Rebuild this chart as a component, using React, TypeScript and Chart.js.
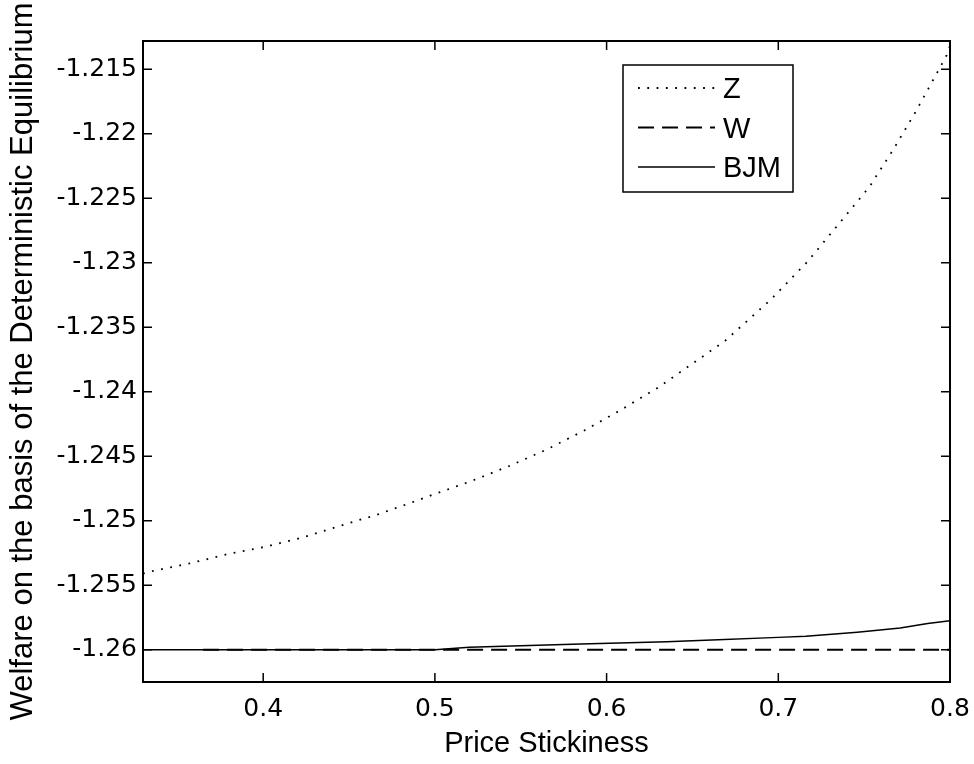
import React, { useEffect, useRef } from "react";
import { Chart, registerables } from "chart.js";

Chart.register(...registerables);

// ---- data ----
const zX = [0.33, 0.335, 0.357, 0.379, 0.401, 0.423, 0.444, 0.466, 0.488, 0.499, 0.521, 0.543, 0.565, 0.587, 0.608, 0.63, 0.652, 0.669, 0.696, 0.717, 0.735, 0.753, 0.767, 0.78, 0.789, 0.798, 0.8];
const zY = [-1.2541, -1.25391, -1.25331, -1.25259, -1.25202, -1.2513, -1.25042, -1.24954, -1.24851, -1.24797, -1.24693, -1.24577, -1.24448, -1.243, -1.24143, -1.23967, -1.23763, -1.23605, -1.2328, -1.22991, -1.22702, -1.22412, -1.22121, -1.21828, -1.21611, -1.21392, -1.21317];

const wX = [0.365, 0.8];
const wY = [-1.26, -1.26];

const bjmX = [0.33, 0.5, 0.52, 0.585, 0.635, 0.665, 0.7, 0.716, 0.746, 0.771, 0.787, 0.8];
const bjmY = [-1.26, -1.26, -1.2598, -1.25956, -1.25938, -1.25923, -1.25904, -1.25896, -1.25865, -1.25832, -1.25797, -1.25775];

const seriesLabels = ["Z", "W", "BJM"];

const xTickValues = [0.4, 0.5, 0.6, 0.7, 0.8];
const yTickValues = [-1.26, -1.255, -1.25, -1.245, -1.24, -1.235, -1.23, -1.225, -1.22, -1.215];

const xTitle = "Price Stickiness";
const yTitle = "Welfare on the basis of the Deterministic Equilibrium";

const fmt = (v: number) => String(parseFloat(Number(v).toFixed(3)));
const pts = (xs: number[], ys: number[]) => xs.map((x, i) => ({ x, y: ys[i] }));

const boxPlugin = {
  id: "matlabBox",
  afterDraw(chart: any) {
    const ctx = chart.ctx;
    const { left, top, right, bottom } = chart.chartArea;
    const xs = chart.scales.x;
    const ys = chart.scales.y;
    ctx.save();
    ctx.strokeStyle = "#000";
    ctx.lineWidth = 2;
    ctx.setLineDash([]);
    ctx.strokeRect(left, top, right - left, bottom - top);
    const tl = 9;
    ctx.lineWidth = 1.5;
    ctx.beginPath();
    xTickValues.forEach((v) => {
      const px = xs.getPixelForValue(v);
      ctx.moveTo(px, bottom);
      ctx.lineTo(px, bottom - tl);
      ctx.moveTo(px, top);
      ctx.lineTo(px, top + tl);
    });
    yTickValues.forEach((v) => {
      const py = ys.getPixelForValue(v);
      ctx.moveTo(left, py);
      ctx.lineTo(left + tl, py);
      ctx.moveTo(right, py);
      ctx.lineTo(right - tl, py);
    });
    ctx.stroke();

    // legend box (inside plot, upper right)
    const lx = right - 327;
    const ly = top + 24;
    const lw = 170;
    const lh = 127;
    ctx.fillStyle = "#fff";
    ctx.fillRect(lx, ly, lw, lh);
    ctx.lineWidth = 1.5;
    ctx.strokeStyle = "#000";
    ctx.strokeRect(lx, ly, lw, lh);
    const rows = [23, 62.5, 102];
    chart.data.datasets.forEach((ds: any, i: number) => {
      const ry = ly + rows[i];
      ctx.save();
      ctx.strokeStyle = ds.borderColor;
      ctx.lineWidth = ds.borderWidth;
      ctx.lineCap = ds.borderCapStyle || "butt";
      ctx.setLineDash(ds.borderDash || []);
      ctx.beginPath();
      ctx.moveTo(lx + 15, ry);
      ctx.lineTo(lx + 92, ry);
      ctx.stroke();
      ctx.restore();
      ctx.fillStyle = "#000";
      ctx.font = "29px 'Liberation Sans'";
      ctx.textBaseline = "middle";
      ctx.textAlign = "left";
      ctx.fillText(ds.label, lx + 100, ry + 2);
    });
    ctx.restore();
  },
};

export default function App() {
  const ref = useRef<HTMLCanvasElement | null>(null);
  useEffect(() => {
    document.body.style.margin = "0";
    const canvas = ref.current;
    if (!canvas) return;
    const chart = new Chart(canvas, {
      type: "line",
      data: {
        datasets: [
          {
            label: seriesLabels[0],
            data: pts(zX, zY),
            borderColor: "#000",
            borderWidth: 1.8,
            borderDash: [1.8, 7.5],
            pointRadius: 0,
            fill: false,
            tension: 0,
          },
          {
            label: seriesLabels[1],
            data: pts(wX, wY),
            borderColor: "#000",
            borderWidth: 1.8,
            borderDash: [16, 8],
            pointRadius: 0,
            fill: false,
            tension: 0,
          },
          {
            label: seriesLabels[2],
            data: pts(bjmX, bjmY),
            borderColor: "#000",
            borderWidth: 1.5,
            pointRadius: 0,
            fill: false,
            tension: 0,
          },
        ],
      },
      options: {
        animation: false,
        responsive: false,
        devicePixelRatio: 1,
        layout: { padding: { left: 0, top: 41, right: 24, bottom: 0 } },
        plugins: { legend: { display: false }, tooltip: { enabled: false } },
        scales: {
          x: {
            type: "linear",
            min: 0.33,
            max: 0.8,
            grid: { display: false, drawTicks: false },
            border: { display: false },
            afterBuildTicks: (s: any) => {
              s.ticks = xTickValues.map((v) => ({ value: v }));
            },
            afterFit: (s: any) => {
              s.height = 82;
              s.paddingLeft = 0;
              s.paddingRight = 0;
            },
            ticks: {
              padding: 12,
              autoSkip: false,
              maxRotation: 0,
              color: "#000",
              font: { family: "'DejaVu Sans'", size: 25 },
              callback: (v: any) => fmt(v),
            },
            title: {
              display: true,
              text: xTitle,
              color: "#000",
              font: { family: "'Liberation Sans'", size: 29 },
              padding: { top: 0, bottom: 3 },
            },
          },
          y: {
            type: "linear",
            min: -1.2625,
            max: -1.2128,
            grid: { display: false, drawTicks: false },
            border: { display: false },
            afterBuildTicks: (s: any) => {
              s.ticks = yTickValues.map((v) => ({ value: v }));
            },
            afterFit: (s: any) => {
              s.width = 143;
              s.paddingTop = 0;
              s.paddingBottom = 0;
            },
            ticks: {
              padding: 6,
              autoSkip: false,
              color: "#000",
              font: { family: "'DejaVu Sans'", size: 25 },
              callback: (v: any) => fmt(v),
            },
            title: {
              display: true,
              text: yTitle,
              color: "#000",
              font: { family: "'Liberation Sans'", size: 31 },
              padding: { top: 5, bottom: 0 },
            },
          },
        },
      },
      plugins: [boxPlugin],
    });
    return () => chart.destroy();
  }, []);
  return (
    <div style={{ width: 974, height: 764, background: "#fff" }}>
      <canvas ref={ref} width={974} height={764} style={{ display: "block" }} />
    </div>
  );
}
